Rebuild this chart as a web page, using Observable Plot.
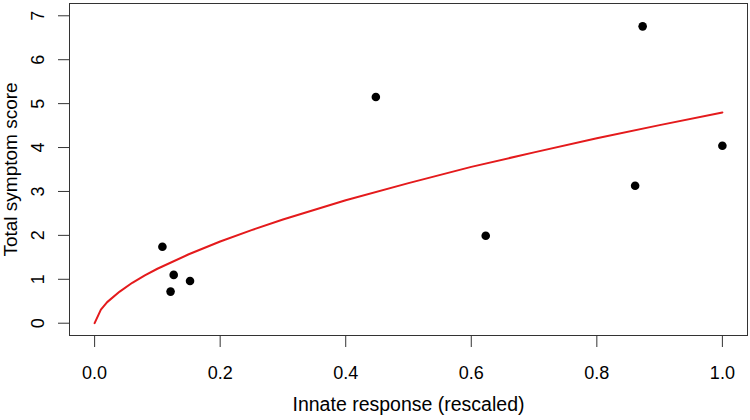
<!DOCTYPE html>
<html>
<head>
<meta charset="utf-8">
<script src="https://cdn.jsdelivr.net/npm/d3@7"></script>
<script src="https://cdn.jsdelivr.net/npm/@observablehq/plot@0.6"></script>
<style>
  html, body { margin: 0; padding: 0; background: #fff; }
  svg { display: block; }
</style>
</head>
<body>
<div id="chart"></div>
<script>
// Observed points
const innate = [0.108, 0.126, 0.121, 0.152, 0.448, 0.873, 1.0, 0.861, 0.623];
const symptom = [1.74, 1.10, 0.72, 0.96, 5.15, 6.76, 4.04, 3.13, 1.99];

// Fitted red curve
const curveX = [0, 0.01, 0.02, 0.04, 0.06, 0.08, 0.1, 0.15, 0.2, 0.25, 0.3, 0.4, 0.5, 0.6, 0.7, 0.8, 0.9, 1.0];
const curveY = [0, 0.31, 0.48, 0.72, 0.92, 1.09, 1.24, 1.57, 1.86, 2.12, 2.36, 2.80, 3.19, 3.56, 3.89, 4.21, 4.51, 4.80];

// Tick labels
const xTicks = [0, 0.2, 0.4, 0.6, 0.8, 1.0];
const yTicks = [0, 1, 2, 3, 4, 5, 6, 7];

const points = innate.map((x, i) => ({x, y: symptom[i]}));
const curve = curveX.map((x, i) => ({x, y: curveY[i]}));

const chart = Plot.plot({
  width: 750,
  height: 420,
  marginLeft: 69,
  marginRight: 3,
  marginTop: 3,
  marginBottom: 85,
  style: {fontFamily: "'Liberation Sans', Arial, sans-serif", fontSize: "18px", color: "#000", background: "#fff"},
  x: {domain: [-0.04, 1.04]},
  y: {domain: [-0.28, 7.28]},
  marks: [
    Plot.frame({stroke: "#333", strokeWidth: 1}),
    Plot.axisX({ticks: xTicks, tickFormat: d3.format(".1f"), tickSize: 12, tickPadding: 19, label: null, stroke: "#333", fontSize: 18}),
    Plot.axisY({ticks: yTicks, tickFormat: d => String(d), tickSize: 11, tickPadding: 15, tickRotate: -90, label: null, stroke: "#333", fontSize: 18}),
    Plot.text(["Innate response (rescaled)"], {frameAnchor: "bottom", textAnchor: "middle", lineAnchor: "middle", dy: 69, fontSize: 19.5, fill: "#000"}),
    Plot.text(["Total symptom score"], {frameAnchor: "left", textAnchor: "middle", lineAnchor: "middle", dx: -59, rotate: -90, fontSize: 19, fill: "#000"}),
    Plot.line(curve, {x: "x", y: "y", stroke: "#e41a1c", strokeWidth: 2}),
    Plot.dot(points, {x: "x", y: "y", r: 4.3, fill: "#000", stroke: "none"})
  ]
});
document.getElementById("chart").appendChild(chart);
</script>
</body>
</html>
